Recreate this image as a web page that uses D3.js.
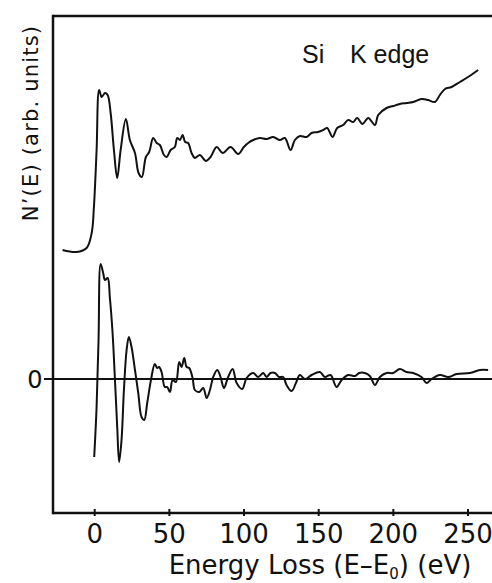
<!DOCTYPE html>
<html>
<head>
<meta charset="utf-8">
<script src="https://cdn.jsdelivr.net/npm/d3@7"></script>
<style>
  body { margin: 0; background: #fff; }
  text { font-family: "Liberation Sans", Arial, sans-serif; fill: #111; }
</style>
</head>
<body>
<div id="chart"></div>
<script>
// Energy loss (eV) and N(E) for the upper edge spectrum
var topEnergy = [-21.2, -11.8, -5.1, -1.7, -0.2, 1.6, 3.3, 5.0, 7.2, 9.0, 11.0, 13.2, 15.4, 17.7, 21.2, 23.9, 27.3, 29.7, 31.9, 34.6, 36.8, 39.5, 41.8, 44.0, 46.7, 48.5, 51.2, 54.0, 55.6, 57.4, 59.2, 60.9, 62.9, 65.2, 67.4, 70.8, 74.8, 77.9, 82.0, 86.0, 91.3, 96.4, 100.2, 103.1, 106.5, 111.0, 115.4, 119.9, 124.4, 127.7, 131.5, 134.4, 137.8, 142.2, 145.6, 150.0, 153.4, 156.0, 159.6, 162.7, 166.7, 170.1, 173.4, 176.1, 179.7, 183.5, 188.0, 190.2, 195.8, 200.2, 204.7, 209.2, 213.6, 219.2, 223.7, 228.2, 231.5, 234.9, 239.3, 244.9, 250.4, 257.1];
var topValue = [1.29, 1.27, 1.31, 1.46, 1.72, 2.29, 2.89, 2.82, 2.86, 2.84, 2.66, 2.29, 2.01, 2.29, 2.60, 2.39, 2.26, 2.06, 2.02, 2.22, 2.27, 2.41, 2.36, 2.34, 2.24, 2.22, 2.29, 2.32, 2.41, 2.39, 2.44, 2.37, 2.36, 2.26, 2.21, 2.24, 2.18, 2.22, 2.32, 2.26, 2.32, 2.25, 2.32, 2.36, 2.39, 2.41, 2.40, 2.42, 2.39, 2.41, 2.29, 2.39, 2.43, 2.42, 2.46, 2.47, 2.49, 2.51, 2.42, 2.51, 2.54, 2.59, 2.57, 2.61, 2.55, 2.61, 2.54, 2.64, 2.71, 2.73, 2.75, 2.76, 2.77, 2.80, 2.79, 2.77, 2.84, 2.90, 2.92, 2.97, 3.02, 3.09];

// Derivative N'(E) for the lower spectrum
var derivEnergy = [0.0, 1.6, 2.9, 4.3, 6.0, 7.2, 9.0, 10.5, 12.3, 13.9, 15.4, 16.7, 18.3, 19.9, 21.7, 23.2, 25.0, 27.3, 29.5, 31.7, 33.5, 35.5, 38.0, 40.6, 42.2, 43.5, 45.1, 47.3, 48.9, 50.7, 52.5, 54.7, 56.9, 58.5, 60.3, 61.9, 63.6, 65.9, 67.4, 70.3, 73.0, 75.3, 77.5, 79.7, 82.4, 84.6, 86.9, 89.7, 92.7, 95.4, 99.1, 102.1, 106.5, 109.8, 113.2, 115.4, 118.1, 121.0, 123.9, 126.6, 128.8, 132.2, 135.1, 137.7, 141.1, 145.6, 151.1, 154.5, 158.3, 162.3, 165.7, 170.1, 174.6, 177.5, 181.3, 184.6, 188.0, 191.3, 195.8, 200.2, 204.7, 209.2, 213.6, 219.2, 222.6, 225.9, 231.5, 237.1, 242.7, 251.6, 258.3, 263.8];
var derivValue = [-0.78, -0.28, 0.39, 1.15, 1.06, 0.99, 1.01, 0.81, 0.46, -0.01, -0.48, -0.83, -0.61, -0.11, 0.29, 0.42, 0.32, 0.09, -0.14, -0.38, -0.41, -0.24, -0.01, 0.15, 0.11, 0.12, 0.07, -0.08, -0.08, -0.13, -0.01, -0.03, 0.17, 0.12, 0.21, 0.12, 0.11, 0.01, -0.11, -0.13, -0.09, -0.19, -0.11, 0.02, 0.09, 0.02, -0.09, 0.02, 0.10, -0.04, -0.10, 0.01, 0.06, 0.02, 0.06, 0.02, 0.06, 0.06, 0.02, 0.02, -0.06, -0.12, -0.04, 0.04, 0.00, 0.04, 0.07, 0.02, 0.04, -0.08, -0.01, 0.04, 0.03, 0.06, 0.06, 0.03, -0.06, 0.02, 0.06, 0.06, 0.10, 0.07, 0.06, 0.02, -0.04, 0.00, 0.04, 0.02, 0.05, 0.06, 0.09, 0.09];

var xTicks = [0, 50, 100, 150, 200, 250];

var topData = topEnergy.map((e, i) => ({ e: e, v: topValue[i] }));
var derivData = derivEnergy.map((e, i) => ({ e: e, v: derivValue[i] }));

var width = 492, height = 583;
var margin = { top: 16, right: 0, bottom: 70, left: 53 };
var roundFont = "'DejaVu Sans', Verdana, sans-serif";

var svg = d3.select("#chart").append("svg")
  .attr("width", width)
  .attr("height", height);

var x = d3.scaleLinear().domain([-27.6, 266.4]).range([margin.left, width - margin.right]);
var y = d3.scaleLinear().domain([-1.34, 3.63]).range([height - margin.bottom, margin.top]);

// frame: top and left lines
svg.append("line")
  .attr("x1", margin.left).attr("x2", width)
  .attr("y1", margin.top).attr("y2", margin.top)
  .attr("stroke", "#111").attr("stroke-width", 2.5);
svg.append("line")
  .attr("x1", margin.left).attr("x2", margin.left)
  .attr("y1", margin.top - 1.2).attr("y2", y(-1.34) + 1.2)
  .attr("stroke", "#111").attr("stroke-width", 2.5);

// bottom axis
var xAxis = svg.append("g")
  .attr("transform", "translate(0," + y(-1.34) + ")")
  .call(d3.axisBottom(x).tickValues(xTicks).tickSizeInner(-4).tickSizeOuter(0).tickPadding(11.5));
xAxis.select(".domain").attr("stroke", "#111").attr("stroke-width", 2.5)
  .attr("d", "M" + margin.left + ",0H" + width);
xAxis.selectAll(".tick line").attr("stroke", "#111").attr("stroke-width", 2)
  .attr("y1", 3);
xAxis.selectAll(".tick text")
  .style("font-family", roundFont)
  .style("font-size", "26px")
  .attr("fill", "#111");

// zero line with its tick and label
svg.append("line")
  .attr("x1", margin.left - 9).attr("x2", width)
  .attr("y1", y(0)).attr("y2", y(0))
  .attr("stroke", "#111").attr("stroke-width", 1.8);
svg.append("text")
  .attr("x", 35).attr("y", y(0))
  .attr("dy", "0.36em")
  .attr("text-anchor", "middle")
  .style("font-family", roundFont)
  .style("font-size", "24px")
  .text("0");

var line = d3.line()
  .x((d) => x(d.e))
  .y((d) => y(d.v))
  .curve(d3.curveCatmullRom.alpha(0.5));

svg.append("path")
  .datum(topData)
  .attr("fill", "none")
  .attr("stroke", "#111")
  .attr("stroke-width", 2)
  .attr("stroke-linejoin", "round")
  .attr("d", line);

svg.append("path")
  .datum(derivData)
  .attr("fill", "none")
  .attr("stroke", "#111")
  .attr("stroke-width", 2)
  .attr("stroke-linejoin", "round")
  .attr("d", line);

// annotation
svg.append("text").attr("x", 302).attr("y", 63).style("font-size", "25px").text("Si");
svg.append("text").attr("x", 350).attr("y", 63).style("font-size", "25px").text("K edge");

// axis titles
var xt = svg.append("text")
  .attr("x", 320).attr("y", 574)
  .attr("text-anchor", "middle")
  .style("font-family", roundFont)
  .style("font-size", "26px");
xt.append("tspan").text("Energy Loss (E\u2013E");
xt.append("tspan").attr("dy", 5).style("font-size", "15px").text("0");
xt.append("tspan").attr("dy", -5).text(") (eV)");

svg.append("text")
  .attr("transform", "translate(38,123) rotate(-90)")
  .attr("text-anchor", "middle")
  .style("font-family", roundFont)
  .style("font-size", "21px")
  .style("letter-spacing", "1.2px")
  .text("N\u2019(E) (arb. units)");
</script>
</body>
</html>
